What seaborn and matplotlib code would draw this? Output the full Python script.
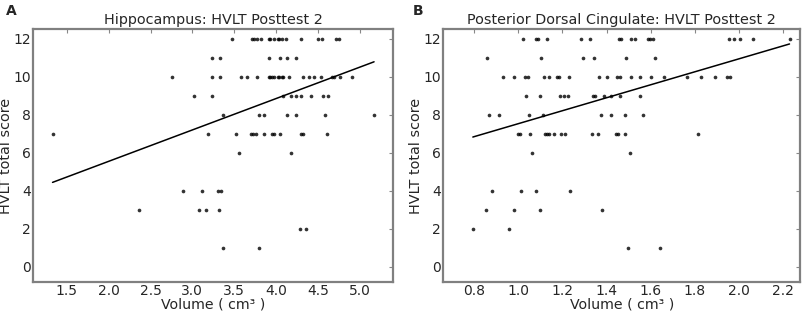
import numpy as np
import pandas as pd
import seaborn as sns
import matplotlib

matplotlib.use("Agg")
import matplotlib.pyplot as plt

# Hippocampus volume (cm^3) grouped by HVLT total score
hippo_scores = [12, 11, 10, 9, 8, 7, 6, 4, 3, 2, 1]
hippo_volumes = [
    [3.47, 3.71, 3.74, 3.77, 3.82, 3.91, 3.93, 3.97, 4.02, 4.04, 4.07, 4.12,
     4.30, 4.50, 4.55, 4.72, 4.75],
    [3.24, 3.33, 3.91, 4.05, 4.13, 4.24],
    [2.76, 3.24, 3.33, 3.58, 3.65, 3.77, 3.91, 3.93, 3.95, 3.97, 4.02, 4.04,
     4.07, 4.08, 4.16, 4.32, 4.39, 4.45, 4.54, 4.67, 4.69, 4.76, 4.91],
    [3.02, 3.24, 4.08, 4.18, 4.24, 4.30, 4.42, 4.56, 4.62],
    [3.36, 3.79, 3.85, 4.13, 4.24, 4.59, 5.17],
    [1.33, 3.19, 3.52, 3.70, 3.73, 3.76, 3.85, 3.95, 3.97, 4.05, 4.30, 4.32,
     4.61],
    [3.56, 4.18],
    [2.89, 3.12, 3.31, 3.34],
    [2.36, 3.08, 3.16, 3.32],
    [4.29, 4.36],
    [3.36, 3.80],
]

# Posterior dorsal cingulate volume (cm^3) grouped by HVLT total score
pdc_scores = [12, 11, 10, 9, 8, 7, 6, 4, 3, 2, 1]
pdc_volumes = [
    [1.019, 1.080, 1.087, 1.130, 1.282, 1.323, 1.456, 1.468, 1.510, 1.528,
     1.589, 1.598, 1.609, 1.958, 1.978, 2.008, 2.067, 2.231],
    [0.858, 1.104, 1.292, 1.344, 1.490, 1.620],
    [0.928, 0.981, 1.031, 1.042, 1.118, 1.140, 1.176, 1.186, 1.228, 1.365,
     1.400, 1.449, 1.460, 1.513, 1.551, 1.601, 1.659, 1.764, 1.829, 1.893,
     1.946, 1.961],
    [1.036, 1.099, 1.187, 1.209, 1.224, 1.340, 1.346, 1.388, 1.419, 1.460,
     1.552],
    [0.868, 0.913, 1.046, 1.112, 1.373, 1.419, 1.482, 1.566],
    [0.998, 1.008, 1.051, 1.119, 1.130, 1.140, 1.160, 1.194, 1.213, 1.335,
     1.361, 1.441, 1.452, 1.482, 1.816],
    [1.062, 1.505],
    [0.882, 1.013, 1.081, 1.232],
    [0.852, 0.978, 1.096, 1.381],
    [0.793, 0.958],
    [1.499, 1.643],
]

hippo_xticks = [1.5, 2.0, 2.5, 3.0, 3.5, 4.0, 4.5, 5.0]
pdc_xticks = [0.8, 1.0, 1.2, 1.4, 1.6, 1.8, 2.0, 2.2]
yticks = [0, 2, 4, 6, 8, 10, 12]


def to_frame(scores, volumes):
    rows = [(v, s) for s, vs in zip(scores, volumes) for v in vs]
    return pd.DataFrame(rows, columns=["volume", "score"])


def draw_panel(ax, df, title, xticks, xlim):
    sns.regplot(
        data=df,
        x="volume",
        y="score",
        ax=ax,
        ci=None,
        truncate=True,
        scatter_kws={"s": 7, "color": "black", "linewidths": 0},
        line_kws={"color": "black", "linewidth": 1.1},
    )
    ax.set_xlim(*xlim)
    ax.set_ylim(-0.8, 12.5)
    ax.set_xticks(xticks)
    ax.set_xticklabels([f"{t:.1f}" for t in xticks])
    ax.set_yticks(yticks)
    ax.set_title(title, fontsize=10.4, pad=4)
    ax.set_xlabel("Volume ( cm³ )", fontsize=10.2, labelpad=-0.6)
    ax.set_ylabel("HVLT total score", fontsize=10.4, labelpad=0.5)
    ax.tick_params(
        direction="in", length=3, width=0.8, color="#888888",
        top=True, right=True, labelsize=10,
    )
    ax.tick_params(axis="x", pad=2)
    ax.tick_params(axis="y", pad=1.5)
    for spine in ax.spines.values():
        spine.set_color("#808080")
        spine.set_linewidth(1.6)


sns.set_style("white")
plt.rcParams["font.family"] = ["DejaVu Sans"]

fig = plt.figure(figsize=(8.04, 3.14), dpi=100)
ax_a = fig.add_axes([0.0414, 0.1029, 0.4478, 0.8038])
ax_b = fig.add_axes([0.5514, 0.1029, 0.4440, 0.8038])

draw_panel(ax_a, to_frame(hippo_scores, hippo_volumes),
           "Hippocampus: HVLT Posttest 2", hippo_xticks, (1.10, 5.40))
draw_panel(ax_b, to_frame(pdc_scores, pdc_volumes),
           "Posterior Dorsal Cingulate: HVLT Posttest 2", pdc_xticks, (0.659, 2.28))

fig.text(0.007, 0.988, "A", fontsize=10, fontweight="bold", va="top")
fig.text(0.513, 0.988, "B", fontsize=10, fontweight="bold", va="top")

fig.savefig("out.png", dpi=100)
